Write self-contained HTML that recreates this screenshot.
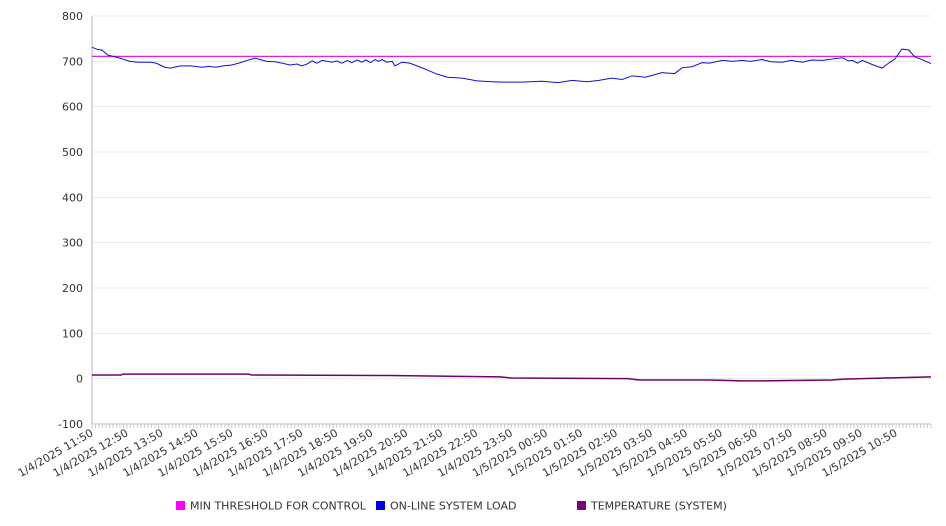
<!DOCTYPE html>
<html><head><meta charset="utf-8"><style>
body{margin:0;background:#fff;}
svg{display:block;font-family:"DejaVu Sans","Liberation Sans",sans-serif;}
</style></head><body>
<svg id="chart" width="946" height="526" viewBox="0 0 946 526"></svg>
<script>
const yTicks=[800,700,600,500,400,300,200,100,0,-100];
const xLabels=["1/4/2025 11:50","1/4/2025 12:50","1/4/2025 13:50","1/4/2025 14:50","1/4/2025 15:50","1/4/2025 16:50","1/4/2025 17:50","1/4/2025 18:50","1/4/2025 19:50","1/4/2025 20:50","1/4/2025 21:50","1/4/2025 22:50","1/4/2025 23:50","1/5/2025 00:50","1/5/2025 01:50","1/5/2025 02:50","1/5/2025 03:50","1/5/2025 04:50","1/5/2025 05:50","1/5/2025 06:50","1/5/2025 07:50","1/5/2025 08:50","1/5/2025 09:50","1/5/2025 10:50"];
const threshold=711;
const loadMinutes=[0,10,17,27,48,65,80,100,110,125,134,152,170,189,200,213,225,240,252,266,280,300,315,326,340,352,360,369,378,386,395,412,420,429,438,446,455,463,470,478,486,492,498,506,515,520,532,545,558,575,592,610,635,661,687,704,738,772,800,824,850,870,892,910,927,950,978,1000,1013,1030,1047,1060,1082,1100,1116,1130,1150,1165,1185,1200,1219,1235,1254,1270,1288,1298,1305,1314,1322,1330,1339,1356,1366,1378,1390,1402,1412,1422,1440];
const loadValues=[731,726,725,714,707,700,698,698,696,687,685,690,690,687,689,687,690,692,696,702,707,700,699,696,692,694,690,694,701,696,702,698,701,696,702,697,703,698,703,697,704,700,704,698,700,690,698,696,690,681,672,665,663,657,655,654,654,656,653,658,655,658,663,660,668,665,675,673,686,688,697,696,702,700,702,700,704,699,698,702,698,703,702,705,708,701,702,696,702,698,693,685,695,705,727,725,710,705,695];
const tempMinutes=[0,50,53,270,273,510,700,720,920,940,1060,1115,1140,1270,1290,1380,1440];
const tempValues=[8,8,10,10,8,7,4,1.5,0,-3,-3,-5,-5,-3,-1,2,4];
const X0=92,X1=931,Y0=16,Y1=424,TMAX=1440;
const xs=m=>X0+(X1-X0)*m/TMAX;
const ys=v=>Y0+(Y1-Y0)*(800-v)/900;
const NS="http://www.w3.org/2000/svg";
const svg=document.getElementById('chart');
function mk(tag,attrs,parent){const e=document.createElementNS(NS,tag);for(const k in attrs)e.setAttribute(k,attrs[k]);(parent||svg).appendChild(e);return e;}
yTicks.forEach(v=>{
 const g=mk('line',{x1:X0,x2:X1,y1:ys(v),y2:ys(v),stroke:'#e8e8e8','stroke-width':1});
 
 
 const t=mk('text',{x:83,y:ys(v)+4,'text-anchor':'end','font-size':11,fill:'#333'});
 t.textContent=v;
 
 
});
const ax=mk('line',{x1:X0,x2:X0,y1:Y0,y2:Y1,stroke:'#bbb'});


const bx=mk('line',{x1:X0,x2:X1,y1:Y1,y2:Y1,stroke:'#bbb'});


for(let m=0;m<=TMAX;m+=6){
 const tk=mk('line',{x1:xs(m),x2:xs(m),y1:Y1,y2:Y1+4,stroke:'#ccc'});
 
 
}
xLabels.forEach((l,i)=>{
 const x=xs(i*60)+2,y=Y1+11;
 const t=mk('text',{x:x,y:y,'text-anchor':'end','font-size':11,fill:'#333',transform:`rotate(-30 ${x} ${y})`});
 t.textContent=l;
 
 
});
const th=mk('line',{x1:X0,x2:X1,y1:ys(threshold),y2:ys(threshold),stroke:'#e020e0','stroke-width':1.2});


const lp=mk('polyline',{points:loadMinutes.map((m,i)=>xs(m)+','+ys(loadValues[i])).join(' '),fill:'none',stroke:'#1010d0','stroke-width':1});


const tp=mk('polyline',{points:tempMinutes.map((m,i)=>xs(m)+','+ys(tempValues[i])).join(' '),fill:'none',stroke:'#700070','stroke-width':1.5});


const legend=[["MIN THRESHOLD FOR CONTROL","#ff00ff",176],["ON-LINE SYSTEM LOAD","#0000ee",376],["TEMPERATURE (SYSTEM)","#800080",577]];
legend.forEach(([n,c,x])=>{
 const r=mk('rect',{x:x,y:501,width:9,height:9,fill:c});
 
 
 const t=mk('text',{x:x+14,y:509.5,'font-size':11,fill:'#333'});
 t.textContent=n;
 
 
});
</script>
</body></html>
